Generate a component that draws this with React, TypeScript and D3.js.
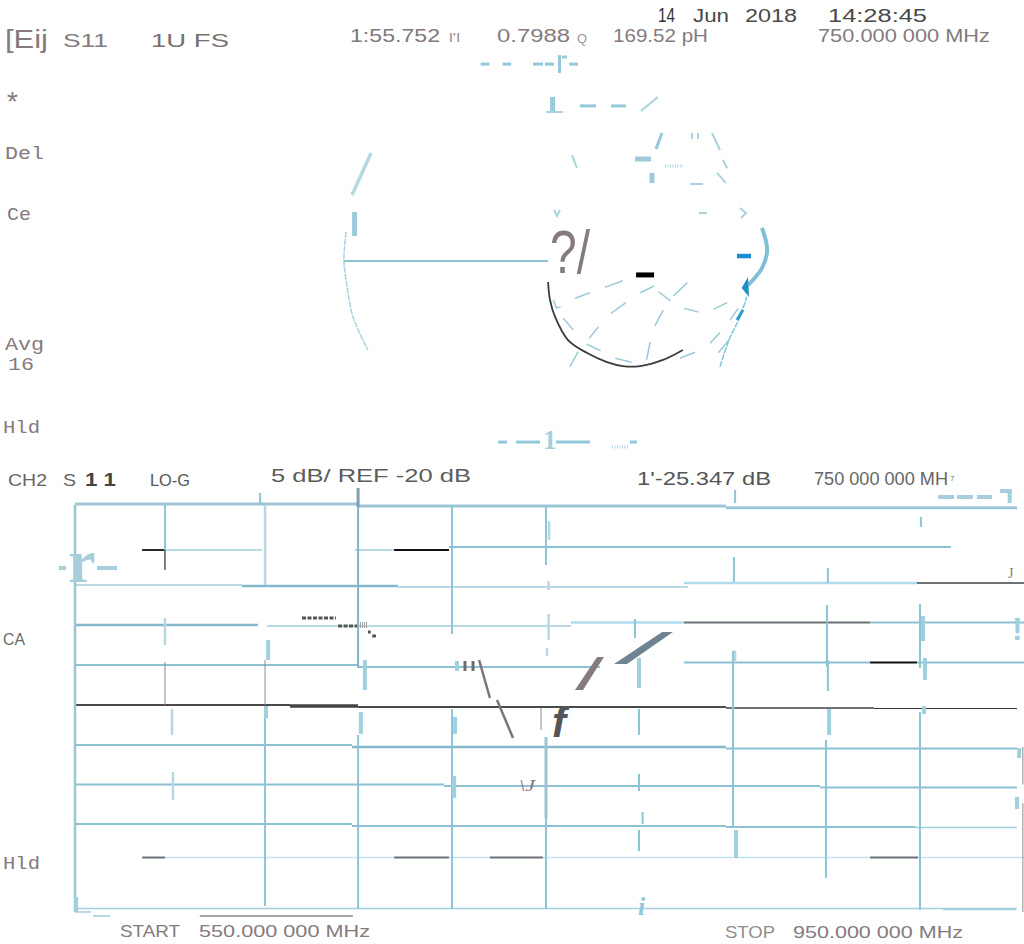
import React, { useEffect, useRef } from 'react';
import * as d3 from 'd3';

// [dB, start MHz, end MHz]
type HSeg = [number, number, number];
// [MHz, start dB, end dB]
type VSeg = [number, number, number];
// Gamma points [re, im], or [MHz, dB] for the log mag outlines
type Pt = [number, number];

const FREQ_DOMAIN = [550, 950];
const DB_DOMAIN = [5, -45];

const headerText = ['[Eij', 'S11', '1U FS', '1:55.752', "l'l", '0.7988', 'Q', '169.52 pH', '750.000 000 MHz', '14', 'Jun', '2018', '14:28:45'];
const sideText = ['*', 'Del', 'Ce', 'Avg', '16', 'Hld', 'CA', 'Hld'];
const ch2Text = ['CH2', 'S', '1 1', 'LO-G', '5 dB/ REF -20 dB', "1'-25.347 dB", '750 000 000 MH', 'START', '550.000 000 MHz', 'STOP', '950.000 000 MHz'];

const hBand: HSeg[] = [[5.12, 550, 670.2], [4.88, 670.2, 826.4], [4.67, 826.4, 950]];
const hStrong: HSeg[] = [[-5.02, 620.9, 687.2], [-9.85, 550, 627.7], [-24.95, 667.6, 826.4]];
const hMid: HSeg[] = [
  [-0.2, 708.8, 922], [-14.8, 550, 670.2], [-15.05, 670.2, 772.9], [-14.49, 808.6, 887.6], [-14.49, 907.5, 953],
  [-9.54, 887.6, 953], [-24.7, 550, 667.6], [-25.13, 826.4, 950], [-29.59, 550, 706.7], [-29.78, 706.7, 866.4],
  [-29.96, 866.4, 950], [-34.48, 550, 667.6], [-34.73, 667.6, 826.4], [-34.85, 826.4, 906.7],
];
const hPale: HSeg[] = [[-4.65, 808.6, 907.5], [-9.54, 760.6, 808.6]];
const hThin: HSeg[] = [
  [-4.9, 550, 620.9], [-5.15, 687.2, 810.3], [-9.97, 631.5, 760.6], [-0.57, 588.2, 629.4], [-0.57, 668.9, 685.5],
  [-34.91, 906.7, 950], [-44.94, 550, 950], [-45.06, 918.6, 949.6], [-45.37, 550, 556.8], [-45.86, 557.6, 564.9],
];
const hFaint: HSeg[] = [[-38.63, 588.2, 685.5], [-38.63, 708.8, 726.2], [-38.63, 748.7, 887.6], [-38.63, 908, 953]];
const hGray: HSeg[] = [
  [-4.65, 907.5, 953], [-9.54, 808.6, 887.6], [-20.12, 826.4, 889.3], [-38.63, 578.5, 588.2],
  [-38.63, 685.5, 708.8], [-38.63, 726.2, 748.7], [-38.63, 887.6, 908],
];
const hBlack: HSeg[] = [[-0.57, 578.5, 588.2], [-0.57, 685.5, 708.8], [-14.49, 887.6, 907.5]];
const hDark: HSeg[] = [[-19.75, 550, 641.3], [-20, 670.2, 826.4]];
const hDarkHeavy: HSeg[] = [[-19.88, 641.3, 670.2]];
const hHair: HSeg[] = [[-20.19, 889.3, 950]];
const hRule: HSeg[] = [[-45.86, 603, 668]];
const hFrag: HSeg[] = [
  [-2.8, 543.2, 546.2], [-2.8, 559.3, 567.8], [5.99, 916.5, 923.3], [5.99, 924.5, 931.3], [5.99, 933, 939.4], [6.73, 942.8, 947.9],
];
const hDotted: HSeg[] = [[-8.98, 646.4, 660.8], [-9.97, 661.7, 670.2], [-10.72, 674.4, 675.6], [-11.21, 676.2, 677.8]];
const hHatch: HSeg[] = [[-9.85, 670.2, 674.4]];

const vFrame: VSeg[] = [[550, 5, -45.37]];
const vMain: VSeg[] = [
  [588.2, 5, -0.57], [670.2, -23.46, -44.88], [630.7, -19.9, -44.63], [710.1, 5, -10.96],
  [710.1, -20.25, -45], [750, 5, -2.43], [750, -33.74, -45], [829.4, -13.07, -34.85], [869.3, -7.38, -15.05],
  [868.9, -24.08, -41.16], [908.8, -7.25, -15.17], [908.8, -20.62, -45.12], [869.7, -14.18, -18.02],
  [830.3, 6.86, 5.25], [829.8, -1.44, -4.53], [869.7, -2.8, -4.65], [909.2, 3.51, 2.28], [628.6, 6.49, 5.12],
  [789.5, -23.46, -20.25], [789.5, -28.29, -30.4], [791, -32.99, -34.48], [789.5, -35.22, -37.82], [787.8, -9.11, -11.46],
];
const vBlue: VSeg[] = [[670.2, 4.75, -15.17]];
const vStrong: VSeg[] = [[670.2, 7.1, 4.75]];
const vSoft: VSeg[] = [[750, -23.71, -33.74]];
const vThick: VSeg[] = [
  [632, -11.71, -14.18], [673.1, -14.18, -17.9], [711.4, -21.24, -23.34], [711, -28.54, -31.26], [789.5, -13.94, -17.65],
  [830.7, -35.22, -38.69], [870.2, -20.25, -23.46], [910.1, -8.74, -11.83], [910.9, -13.94, -16.66],
  [950.9, -25.07, -26.31], [950, -31.14, -32.62], [671.4, -20.62, -23.34], [631.1, -19.88, -21.36],
  [910.5, -19.9, -20.87], [550.5, -43.51, -45.37], [712.2, -14.31, -15.54], [946.9, 6.73, 5.25],
];
const vPale: VSeg[] = [
  [630.7, 5, -4.9], [591.2, -20.25, -23.46], [591.6, -28.04, -31.51], [751.3, 3.02, 0.67], [751.1, -4.41, -5.52],
  [751.1, -8.49, -11.71], [750.4, -12.7, -13.69], [588.2, -8.99, -12.33], [830.3, -13, -14.3],
];
const vDarkThin: VSeg[] = [
  [588.2, -14.43, -19.75], [630.7, -14.2, -19.75], [952.5, -24.95, -29.59], [952.5, -31.9, -45.37], [747.9, -20.12, -22.85],
];
const vDark: VSeg[] = [[588.2, -0.57, -3.04]];
const vGrayTicks: VSeg[] = [[715.6, -14.31, -15.54], [719, -14.31, -15.54]];

const slateBar: Pt[] = [[799.3, -10.72], [803.9, -10.72], [784.4, -14.68], [778.9, -14.68]];
const mauveBar: Pt[] = [[762.3, -17.9], [765.7, -17.9], [774.6, -13.81], [771.7, -13.81]];
const mauveStrokes: Pt[][] = [
  [[721.6, -14.18], [726.2, -18.89]],
  [[729.2, -19.13], [736, -23.84]],
];

const smithOuterLeft: Pt[] = [[-0.995, 0.152], [-1.005, 0.005], [-0.99, -0.136], [-0.962, -0.293], [-0.892, -0.466]];
const smithAxis: Pt[] = [[-1.005, 0], [-0.042, 0]];
const traceS11: Pt[] = [
  [-0.042, -0.11], [-0.033, -0.204], [-0.009, -0.293], [0.052, -0.414], [0.142, -0.482], [0.236, -0.529],
  [0.311, -0.55], [0.392, -0.55], [0.5, -0.518], [0.594, -0.466],
];
const outerRight: Pt[] = [[0.901, -0.126], [0.967, -0.037], [0.991, 0.058], [0.967, 0.173]];
const outerRightLow: Pt[] = [[0.769, -0.553], [0.811, -0.414], [0.863, -0.292], [0.895, -0.187]];
const smithWedge: Pt[] = [[0.871, -0.141], [0.901, -0.084], [0.906, -0.188]];
const smithFragments: Pt[][] = [
  [[0.085, -0.195], [0.156, -0.166]], [[0.226, -0.138], [0.31, -0.103]], [[0.392, -0.166], [0.458, -0.131]],
  [[0.478, -0.161], [0.536, -0.209]], [[0.549, -0.183], [0.615, -0.113]], [[0.255, -0.274], [0.325, -0.218]],
  [[0.599, -0.248], [0.667, -0.267]], [[0.737, -0.253], [0.803, -0.218]], [[0.462, -0.34], [0.501, -0.257]],
  [[0.03, -0.3], [0.077, -0.361]], [[0.152, -0.405], [0.195, -0.344]], [[0.14, -0.435], [0.206, -0.47]],
  [[0.423, -0.518], [0.439, -0.423]], [[0.061, -0.553], [0.1, -0.475]], [[0.274, -0.509], [0.352, -0.53]],
  [[0.58, -0.509], [0.651, -0.478]], [[0.722, -0.431], [0.769, -0.375]], [[0.761, -0.48], [0.811, -0.414]],
  [[0.816, -0.309], [0.855, -0.248]], [[-0.017, -0.204], [-0.001, -0.248], [0.017, -0.239]],
];
const arcThin: Pt[][] = [
  [[0.476, 0.859], [0.396, 0.785]], [[0.731, 0.67], [0.769, 0.581]], [[0.071, 0.555], [0.094, 0.487]],
  [[0.783, 0.529], [0.802, 0.487]], [[0.755, 0.461], [0.797, 0.408]], [[-0.014, 0.267], [0, 0.236], [0.014, 0.267]],
  [[0.863, 0.277], [0.892, 0.251], [0.868, 0.225]], [[0.637, 0.67], [0.637, 0.639]], [[0.665, 0.67], [0.665, 0.639]],
  [[0.627, 0.403], [0.689, 0.403]], [[0.67, 0.251], [0.708, 0.251]], [[-0.052, 0.78], [0.028, 0.78]],
];
const arcDashes: Pt[][] = [
  [[-0.36, 1.031], [-0.319, 1.031]], [[-0.256, 1.031], [-0.216, 1.031]], [[-0.113, 1.031], [-0.066, 1.031]],
  [[-0.057, 1.031], [-0.014, 1.031]], [[0.057, 1.031], [0.099, 1.031]], [[0.012, 1.078], [0.012, 0.984]],
  [[0.024, 1.068], [0.047, 1.068]], [[0.108, 0.812], [0.184, 0.812]], [[0.255, 0.812], [0.325, 0.812]],
  [[0.467, 0.586], [0.495, 0.67]], [[-0.278, -0.948], [-0.236, -0.948]], [[-0.193, -0.948], [-0.08, -0.948]],
  [[-0.005, -0.948], [0.156, -0.948]], [[0.344, -0.948], [0.377, -0.948]],
];
const arcThick: Pt[][] = [
  [[-0.021, 0.859], [-0.021, 0.785]], [[0.368, 0.534], [0.443, 0.534]], [[0.448, 0.461], [0.448, 0.408]],
  [[-0.955, 0.257], [-0.955, 0.131]],
];
const arcSoft: Pt[] = [[-0.877, 0.565], [-0.967, 0.346]];
const arcDotted: Pt[][] = [[[0.509, 0.497], [0.594, 0.497]], [[0.259, -0.974], [0.335, -0.974]]];
const bluePatch: Pt[] = [[0.849, -0.309], [0.877, -0.257]];
const blueMark: Pt[] = [[0.849, 0.026], [0.915, 0.026]];
const blackMark: Pt[] = [[0.373, -0.073], [0.458, -0.073]];

export default function App() {
  const svgRef = useRef<SVGSVGElement>(null);

  useEffect(() => {
    if (!svgRef.current) return;
    const svg = d3.select(svgRef.current);
    svg.selectAll('*').remove();

    const x = d3.scaleLinear().domain(FREQ_DOMAIN).range([75, 1017]);
    const y = d3.scaleLinear().domain(DB_DOMAIN).range([505, 909]);
    const gx = d3.scaleLinear().domain([-1, 1]).range([345, 769]);
    const gy = d3.scaleLinear().domain([1, -1]).range([70, 452]);
    const gammaLine = d3.line<Pt>().x(d => gx(d[0])).y(d => gy(d[1]));
    const gammaCurve = d3.line<Pt>().x(d => gx(d[0])).y(d => gy(d[1])).curve(d3.curveCatmullRom);
    const logLine = d3.line<Pt>().x(d => x(d[0])).y(d => y(d[1]));

    // rectangular grid + log mag fragments
    const log = svg.append('g').attr('fill', 'none');
    const hStyles: [HSeg[], string, number, string?][] = [
      [hThin, '#a3cfde', 1.5], [hFaint, '#c6e2ea', 1.5], [hMid, '#8cc1d4', 2], [hPale, '#afdcec', 2.5],
      [hBand, '#9cc5d8', 3], [hStrong, '#85b8cc', 2.5], [hGray, '#6c7276', 2], [hBlack, '#111111', 1.8],
      [hDark, '#4a4a4a', 2], [hDarkHeavy, '#444444', 3.5], [hHair, '#333333', 1], [hRule, '#8d8589', 1.5],
      [hFrag, '#a6cfdd', 4], [hDotted, '#555555', 3, '4 1.5'], [hHatch, '#a0a0a0', 6, '1 1'],
    ];
    hStyles.forEach(([rows, color, w, dash]) => {
      log.selectAll(null).data(rows).enter().append('line')
        .attr('x1', d => x(d[1])).attr('x2', d => x(d[2]))
        .attr('y1', d => y(d[0])).attr('y2', d => y(d[0]))
        .attr('stroke', color).attr('stroke-width', w).attr('stroke-dasharray', dash ?? null);
    });
    const vStyles: [VSeg[], string, number][] = [
      [vFrame, '#9cc6d8', 2.5], [vPale, '#b5d8e2', 2.5], [vMain, '#8cc4d8', 2], [vThick, '#9fd0de', 4],
      [vBlue, '#7fb5cc', 2], [vStrong, '#7f9fb4', 3], [vSoft, '#9cc3d4', 3], [vDarkThin, '#8a8a8a', 1],
      [vDark, '#555555', 1.5], [vGrayTicks, '#6c6c6c', 3],
    ];
    vStyles.forEach(([rows, color, w]) => {
      log.selectAll(null).data(rows).enter().append('line')
        .attr('x1', d => x(d[0])).attr('x2', d => x(d[0]))
        .attr('y1', d => y(d[1])).attr('y2', d => y(d[2]))
        .attr('stroke', color).attr('stroke-width', w);
    });
    log.append('path').attr('d', logLine(slateBar) + 'Z').attr('fill', '#6f8490');
    log.append('path').attr('d', logLine(mauveBar) + 'Z').attr('fill', '#857a80');
    log.selectAll(null).data(mauveStrokes).enter().append('path')
      .attr('d', d => logLine(d)).attr('stroke', '#80747a').attr('stroke-width', 2.5);

    // polar chart fragments
    const polar = svg.append('g').attr('fill', 'none');
    const pathStyles: [Pt[][], string, number][] = [
      [smithFragments, '#9ccbd8', 1.5], [arcThin, '#a9d3df', 2], [arcDashes, '#93c8da', 3], [arcThick, '#9dcbdb', 5],
    ];
    pathStyles.forEach(([rows, color, w]) => {
      polar.selectAll(null).data(rows).enter().append('path')
        .attr('d', d => gammaLine(d)).attr('stroke', color).attr('stroke-width', w);
    });
    polar.selectAll(null).data(arcDotted).enter().append('path')
      .attr('d', d => gammaLine(d)).attr('stroke', '#a9d3df').attr('stroke-width', 3).attr('stroke-dasharray', '1 1.5');
    polar.append('path').attr('d', gammaLine(arcSoft)).attr('stroke', '#b5d8e2').attr('stroke-width', 3.5);
    polar.append('path').attr('d', gammaCurve(smithOuterLeft)).attr('stroke', '#a5d3e0').attr('stroke-width', 1.5).attr('stroke-dasharray', '6 1');
    polar.append('path').attr('d', gammaLine(smithAxis)).attr('stroke', '#8ec3d6').attr('stroke-width', 2);
    polar.append('path').attr('d', gammaCurve(outerRight)).attr('stroke', '#80bfd8').attr('stroke-width', 4);
    polar.append('path').attr('d', gammaCurve(outerRightLow)).attr('stroke', '#7fc6dc').attr('stroke-width', 1.5).attr('stroke-dasharray', '6 1');
    polar.append('path').attr('d', gammaLine(smithWedge) + 'Z').attr('fill', '#1e90c8');
    polar.append('path').attr('d', gammaLine(bluePatch)).attr('stroke', '#2a9ccc').attr('stroke-width', 3);
    polar.append('path').attr('d', gammaCurve(traceS11)).attr('stroke', '#3c3c3c').attr('stroke-width', 1.8);
    polar.append('path').attr('d', gammaLine(blueMark)).attr('stroke', '#1a8fd0').attr('stroke-width', 4.5);
    polar.append('path').attr('d', gammaLine(blackMark)).attr('stroke', '#000000').attr('stroke-width', 5);

    // readouts
    const sans = 'Liberation Sans, Arial, sans-serif';
    const mono = 'Liberation Mono, monospace';
    const serif = 'Liberation Serif, serif';
    const put = (s: string, px: number, py: number, size: number, color = '#857a7e', family = sans, width?: number, weight = 'normal', italic = false) => {
      const t = svg.append('text').attr('x', px).attr('y', py).attr('font-size', size).attr('fill', color)
        .attr('font-family', family).attr('font-weight', weight).text(s);
      if (italic) t.attr('font-style', 'italic');
      if (width) t.attr('textLength', width).attr('lengthAdjust', 'spacingAndGlyphs');
    };
    put(headerText[0], 5, 48, 25, '#857a7e', sans, 43);
    put(headerText[1], 63, 47, 19, '#857a7e', sans, 45);
    put(headerText[2], 151, 47, 19, '#76706f', sans, 78);
    put(headerText[3], 350, 42, 19, '#80787c', sans, 90);
    put(headerText[4], 449, 42, 12, '#9a9296', sans, 11);
    put(headerText[5], 497, 42, 18, '#857a7e', sans, 73);
    put(headerText[6], 577, 43, 12, '#9a9296', sans, 10);
    put(headerText[7], 613, 42, 18, '#857a7e', sans, 95);
    put(headerText[8], 818, 42, 18, '#857a7e', sans, 172);
    put(headerText[9], 658, 22, 20, '#333333', sans, 17);
    put(headerText[10], 693, 22, 18, '#4a4a4a', sans, 36);
    put(headerText[11], 745, 22, 18, '#4a4a4a', sans, 52);
    put(headerText[12], 828, 22, 18, '#4a4a4a', sans, 99);

    put(sideText[0], 4, 112, 28, '#857a7e', mono);
    put(sideText[1], 5, 159, 18, '#857a7e', mono, 39);
    put(sideText[2], 7, 220, 18, '#857a7e', mono, 24);
    put(sideText[3], 5, 350, 18, '#857a7e', mono, 39);
    put(sideText[4], 8, 370, 18, '#857a7e', mono, 26);
    put(sideText[5], 3, 433, 18, '#857a7e', mono, 37);
    put(sideText[6], 3, 645, 17, '#6a6a6a', sans, 22);
    put(sideText[7], 3, 869, 18, '#857a7e', mono, 37);

    put(ch2Text[0], 8, 486, 17, '#666666', sans, 39);
    put(ch2Text[1], 63, 486, 17, '#666666', sans, 13);
    put(ch2Text[2], 85, 486, 18, '#444444', sans, 31, 'bold');
    put(ch2Text[3], 150, 486, 16, '#555555', sans, 40);
    put(ch2Text[4], 271, 482, 18, '#5c5c5c', sans, 200);
    put(ch2Text[5], 637, 485, 18, '#555555', sans, 134);
    put(ch2Text[6], 814, 485, 18, '#666666', sans, 134);
    put('7', 950, 481, 8, '#777777', sans);
    put(ch2Text[7], 120, 937, 17, '#857a7e', sans, 60);
    put(ch2Text[8], 199, 937, 17, '#857a7e', sans, 171);
    put(ch2Text[9], 725, 938, 17, '#8f8f8f', sans, 50);
    put(ch2Text[10], 793, 938, 17, '#857a7e', sans, 170);

    // stray glyphs of the scan
    put('?/', 550, 273, 61, '#857a7e', sans, 40);
    put('1', 543, 449, 27, '#a6cfdd', serif, undefined, 'bold');
    put('r', 68, 582, 62, '#a6cfdd', serif, undefined, 'bold');
    put('J', 1008, 578, 14, '#7d7d7d', serif);
    put('\\J', 519, 791, 17, '#85797e', serif, 16, 'normal', true);
    put('f', 552, 737, 42, '#555555', sans, undefined, 'bold', true);
    put('!', 1012, 640, 32, '#9fd0de', sans, undefined, 'bold');
    put('i', 638, 915, 26, '#8fc6da', serif, undefined, 'bold', true);
  }, []);

  return (
    <svg ref={svgRef} width={1024} height={944} style={{ position: 'absolute', left: 0, top: 0, background: '#fff' }} />
  );
}
